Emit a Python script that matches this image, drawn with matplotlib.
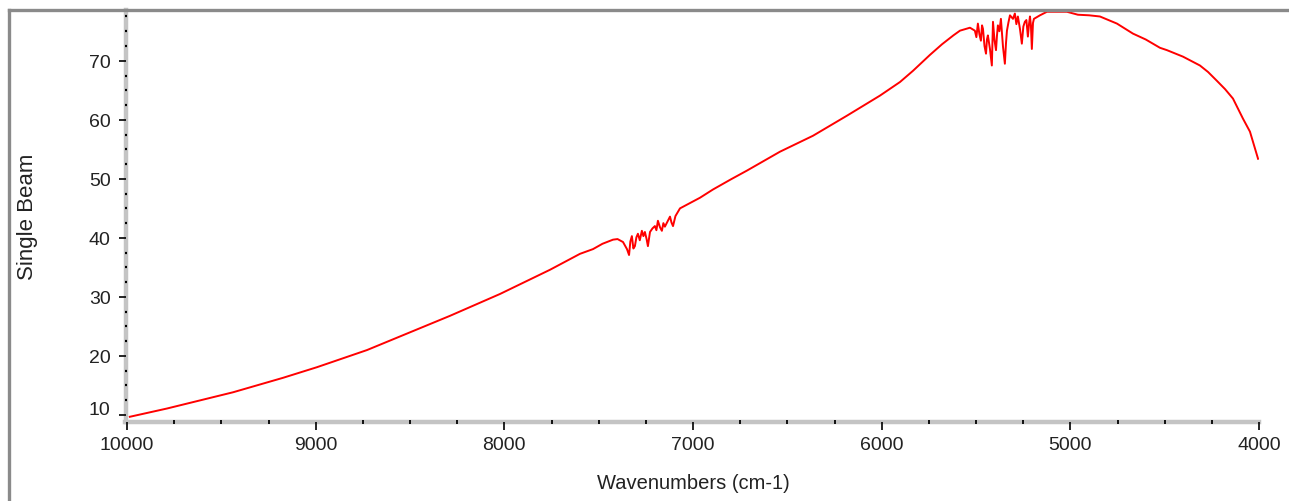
import numpy as np
import matplotlib
matplotlib.use("Agg")
import matplotlib.pyplot as plt
from matplotlib.lines import Line2D
import matplotlib.transforms as mtransforms

plt.rcParams['font.family'] = ['Liberation Sans', 'DejaVu Sans']

# spectrum (wavenumber, single beam)
wavenumbers = [
    9985, 9788, 9438, 9173, 8993, 8728, 8553, 8288, 8023, 7758, 7599, 7530,
    7480, 7424, 7400, 7371, 7350, 7339, 7332, 7324, 7316, 7308, 7300, 7292,
    7282, 7271, 7263, 7255, 7246, 7239, 7228, 7215, 7202, 7194, 7186, 7175,
    7165, 7157, 7149, 7135, 7122, 7114, 7106, 7093, 7080, 7069, 7040, 7016,
    6963, 6894, 6800, 6714, 6539, 6364, 6184, 6009, 5903, 5834, 5744, 5680,
    5620, 5585, 5532, 5506, 5498, 5490, 5482, 5474, 5468, 5463, 5455, 5447,
    5442, 5437, 5426, 5416, 5410, 5402, 5394, 5389, 5384, 5376, 5368, 5362,
    5357, 5352, 5347, 5341, 5336, 5328, 5320, 5304, 5294, 5286, 5278, 5267,
    5257, 5249, 5241, 5233, 5225, 5219, 5214, 5209, 5204, 5198, 5193, 5161,
    5124, 5018, 4960, 4900, 4843, 4753, 4668, 4600, 4525, 4488, 4403, 4313,
    4270, 4223, 4180, 4138, 4085, 4048, 4021, 4005,
]
single_beam = [
    9.7, 11.1, 13.85, 16.3, 18.1, 21.0, 23.3, 26.8, 30.5, 34.6, 37.3, 38.1,
    39.0, 39.7, 39.8, 39.3, 38.1, 37.1, 39.4, 40.3, 38.2, 38.6, 40.1, 40.7,
    39.6, 41.2, 40.3, 41.0, 39.8, 38.6, 41.0, 41.6, 42.0, 41.3, 42.9, 41.8,
    41.2, 42.5, 41.9, 42.8, 43.6, 42.6, 42.0, 43.7, 44.4, 45.0, 45.5, 45.9,
    46.8, 48.2, 49.9, 51.4, 54.6, 57.3, 60.7, 64.1, 66.4, 68.3, 71.0, 72.8,
    74.3, 75.1, 75.6, 75.1, 74.0, 76.3, 74.5, 73.4, 76.0, 75.4, 72.5, 71.2,
    73.6, 74.3, 72.0, 69.2, 76.6, 73.5, 71.8, 74.2, 76.0, 75.0, 77.1, 74.6,
    72.4, 71.0, 69.5, 73.0, 75.1, 76.5, 77.7, 77.1, 78.0, 76.2, 77.5, 75.4,
    72.9, 75.8, 76.6, 76.9, 74.1, 76.2, 77.5, 76.0, 72.0, 76.4, 77.1, 77.7,
    78.3, 78.3, 77.8, 77.7, 77.5, 76.3, 74.6, 73.6, 72.2, 71.8, 70.7, 69.2,
    68.1, 66.6, 65.2, 63.6, 60.2, 58.0, 55.1, 53.4,
]
y_ticks = [10, 20, 30, 40, 50, 60, 70]
x_ticks = [10000, 9000, 8000, 7000, 6000, 5000, 4000]

W, H = 1289, 502
fig = plt.figure(figsize=(W / 100, H / 100), dpi=100)
ax = fig.add_axes([125.5 / W, 1 - 422.5 / H, (1259 - 125.5) / W, (422.5 - 11) / H])

ax.plot(wavenumbers, single_beam, color='red', lw=1.4, zorder=3)

ax.set_xlim(10008, 4000)
ax.set_ylim(8.9, 78.6)
ax.set_xticks(x_ticks)
ax.set_xticks(np.arange(4000, 10001, 250), minor=True)
ax.set_yticks(y_ticks)
ax.set_yticks(np.arange(10, 78.6, 2.5), minor=True)

for s in ['top', 'right']:
    ax.spines[s].set_visible(False)
for s in ['left', 'bottom']:
    ax.spines[s].set_color('#c4c4c4')
    ax.spines[s].set_linewidth(3.2)
    ax.spines[s].set_zorder(1)

ax.tick_params(axis='x', which='major', direction='out', length=5.5, width=1.2,
               color='black', pad=5, labelsize=14, labelcolor='#222222')
ax.tick_params(axis='x', which='minor', direction='inout', length=3.2,
               width=1.3, color='black')
ax.tick_params(axis='y', which='major', direction='out', length=5.2, width=1.2,
               color='black', pad=5.5, labelsize=14, labelcolor='#222222')
ax.tick_params(axis='y', which='minor', direction='inout', length=1.8,
               width=1.6, color='black')

# the bottom "10" label sits a bit above its tick in the reference
fig.canvas.draw()
lab10 = ax.get_yticklabels()[0]
lab10.set_transform(lab10.get_transform() +
                    mtransforms.ScaledTranslation(0, 8 / 100, fig.dpi_scale_trans))

fig.text(28 / W, 1 - 217 / H, 'Single Beam', rotation=90, ha='center',
         va='center', fontsize=16, color='#222222')
fig.text(693 / W, 1 - 484 / H, 'Wavenumbers (cm-1)', ha='center',
         va='center', fontsize=14.5, color='#222222')

# outer window frame
fig.add_artist(Line2D([9 / W, 1], [1 - 11 / H, 1 - 11 / H], transform=fig.transFigure,
                      color='#8a8a8a', lw=2.4))
fig.add_artist(Line2D([9 / W, 9 / W], [0, 1 - 11 / H], transform=fig.transFigure,
                      color='#8a8a8a', lw=2.4))

fig.savefig('out.png', dpi=100)
